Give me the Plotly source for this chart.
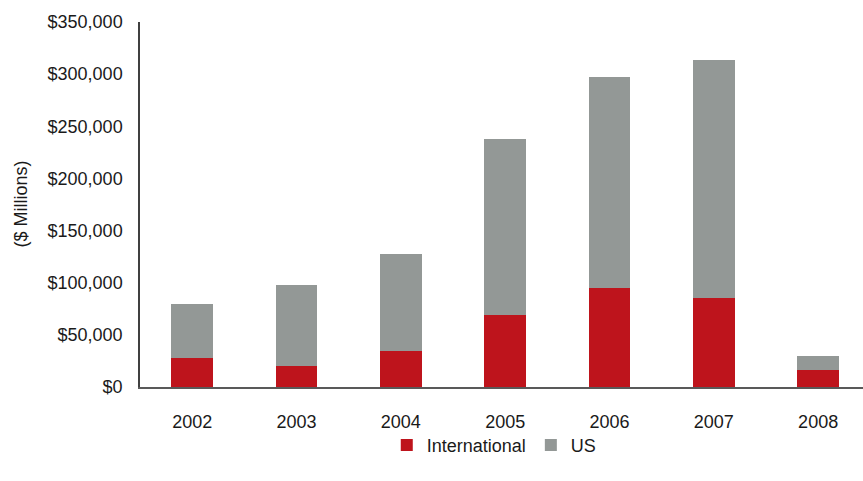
import plotly.graph_objects as go

years = ["2002", "2003", "2004", "2005", "2006", "2007", "2008"]
international = [27800, 20100, 34500, 69000, 94900, 85300, 16300]
us = [51800, 77700, 93000, 168800, 202400, 228200, 13400]
y_ticks = [0, 50000, 100000, 150000, 200000, 250000, 300000, 350000]
y_tick_labels = ["$0", "$50,000", "$100,000", "$150,000", "$200,000", "$250,000", "$300,000", "$350,000"]

RED = "#BE141C"
GRAY = "#939896"
FONT = "Liberation Sans, Arial, sans-serif"

fig = go.Figure()
fig.add_trace(go.Bar(x=years, y=international, name="International", marker_color=RED, marker_line_width=0))
fig.add_trace(go.Bar(x=years, y=us, name="US", marker_color=GRAY, marker_line_width=0))

fig.update_layout(
    width=863, height=481,
    barmode="stack", bargap=0.6,
    margin=dict(l=140, r=0, t=22, b=94),
    paper_bgcolor="white", plot_bgcolor="white",
    font=dict(family=FONT, size=18, color="#1a1a1a"),
    showlegend=True,
    legend=dict(orientation="h", x=0.49, xanchor="center", y=-0.16, yanchor="middle",
                bgcolor="rgba(0,0,0,0)",
                font=dict(size=18), itemwidth=30, traceorder="normal"),
)
fig.update_xaxes(
    type="category", range=[-0.5, 6.43],
    showline=True, linecolor="#595959", linewidth=1.5,
    showgrid=False, ticks="", ticklabelstandoff=18,
)
fig.update_yaxes(
    range=[0, 350000], tickvals=y_ticks, ticktext=y_tick_labels,
    showline=True, linecolor="#404040", linewidth=1.5,
    showgrid=False, zeroline=False, ticks="", ticklabelstandoff=12,
)
fig.add_annotation(text="($ Millions)", xref="paper", yref="paper", x=0, y=0.5,
                   xanchor="center", yanchor="middle", xshift=-120, textangle=-90,
                   showarrow=False, font=dict(size=18, family=FONT, color="#1a1a1a"))

fig.write_html("out.html")
